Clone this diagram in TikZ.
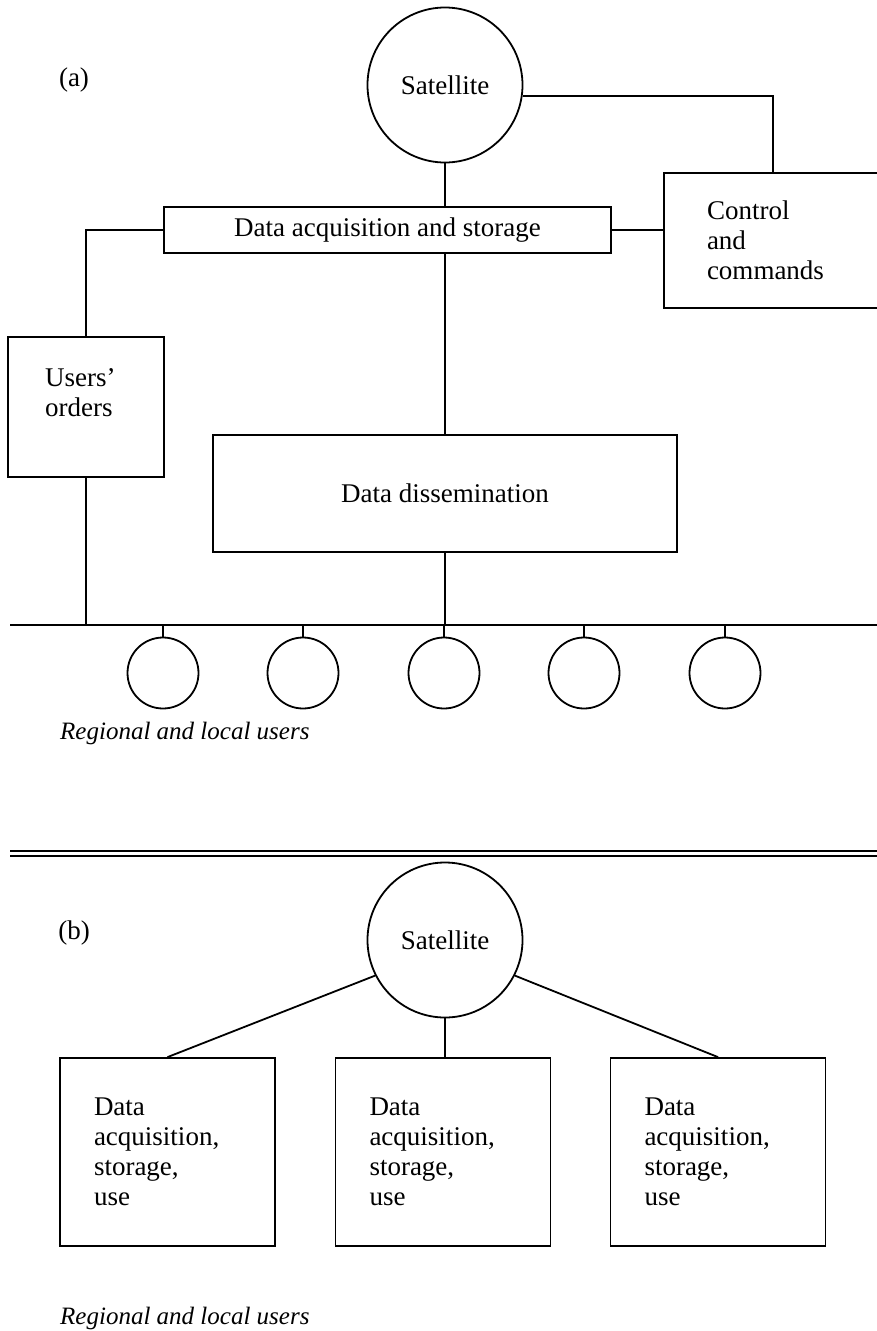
\documentclass[tikz,border=0pt]{standalone}
\usepackage{fontspec}
\setmainfont{Liberation Serif}
\usepackage{tikz}

\begin{document}
\begin{tikzpicture}[x=1pt, y=-1pt,
		every node/.style={font=\fontsize{27}{30}\selectfont},
		sat/.style={circle, draw, line width=1.8pt, minimum size=155, inner sep=0pt},
		usr/.style={circle, draw, line width=1.8pt, minimum size=71, inner sep=0pt},
		box/.style={rectangle, draw, line width=1.8pt, inner sep=0pt},
		tbox/.style={box, align=left, inner xsep=#1},
		caption/.style={anchor=west, inner sep=0pt, font=\fontsize{25}{30}\selectfont\itshape},
		link/.style={line width=1.8pt}
	]
	\useasboundingbox (0,0) rectangle (876,1331);

	% (a) centralised system
	\node (la) at (74,80) {(a)};
	\node[sat] (sata) at (445,85) {Satellite};
	\node[box, minimum width=447, minimum height=46] (acq) at (387.5,230) {Data acquisition and storage};
	\node[tbox=43, text width=132, minimum height=135] (ctrl) at (773,240.5) {Control\\and\\commands};
	\node[box, minimum width=156, minimum height=140] (users) at (86,407) {};
	\node[align=left, anchor=west, inner sep=0pt] (userstxt) at (45,393) {Users’\\orders};
	\node[box, minimum width=464, minimum height=117] (diss) at (445,493.5) {Data dissemination};

	\coordinate (busL) at (10,625);
	\coordinate (busR) at (882,625);

	\draw[link] (sata.-8) -| (ctrl.north);
	\draw[link] (sata.south) -- (sata.south |- acq.north);
	\draw[link] (acq.west) -| (users.north);
	\draw[link] (acq.east) -- (ctrl.west |- acq.east);
	\draw[link] (sata.south |- acq.south) -- (diss.north);
	\draw[link] (users.south) -- (users.south |- busL);
	\draw[link] (diss.south) -- (diss.south |- busL);
	\draw[link] (busL) -- (busR);

	\foreach \i/\x in {1/163,2/303,3/444,4/584,5/725} {
		\node[usr] (u\i) at (\x,673) {};
		\draw[link] (u\i.north) -- (u\i.north |- busL);
	}
	\node[caption] (rlua) at (60,733) {Regional and local users};

	% separator
	\coordinate (sepL) at (10,851);
	\coordinate (sepR) at (882,851);
	\draw[link] (sepL) -- (sepR);
	\draw[link] ([yshift=-5]sepL) -- ([yshift=-5]sepR);

	% (b) distributed system
	\node (lb) at (74,933) {(b)};
	\node[sat] (satb) at (445,940) {Satellite};
	\foreach \n/\x in {L/167.5,M/443,R/718} {
		\node[tbox=34, text width=147, minimum height=188] (box\n) at (\x,1152) {Data\\acquisition,\\storage,\\use};
	}
	\draw[link] (satb.207) -- (boxL.north);
	\draw[link] (satb.south) -- (satb.south |- boxM.north);
	\draw[link] (satb.333) -- (boxR.north);
	\node[caption] (rlub) at (60,1318) {Regional and local users};
\end{tikzpicture}
\end{document}
